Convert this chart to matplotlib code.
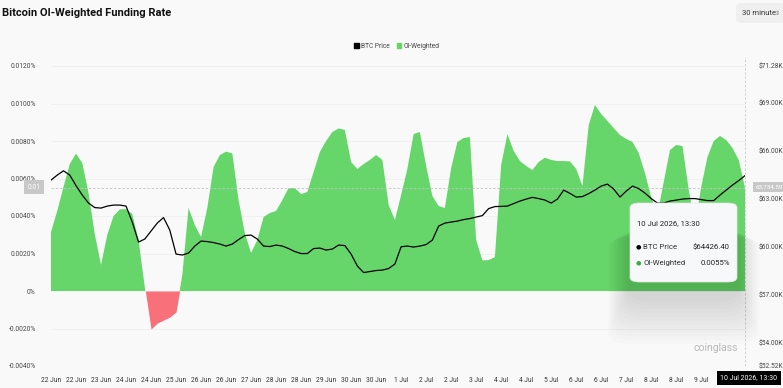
#Bitcoin OI-weighted funding rate vs BTC price (coinglass style)
import matplotlib
matplotlib.use('Agg')
import matplotlib.pyplot as plt
import numpy as np
from matplotlib.patches import FancyBboxPatch, Patch

# 4-hourly readings, hours since 22 Jun 00:00
hours = np.arange(0, 448, 4)

# OI-weighted funding rate, in %
funding = [
    0.00315, 0.00427, 0.00555, 0.00677, 0.00733, 0.00683, 0.00523, 0.00304,
    0.00139, 0.00299, 0.00400, 0.00435, 0.00437, 0.00411, 0.00272, 0.00021,
    -0.00203, -0.00171, -0.00155, -0.00139, -0.00112, 0.00085, 0.00443, 0.00352,
    0.00288, 0.00443, 0.00661, 0.00725, 0.00743, 0.00734, 0.00485, 0.00309,
    0.00203, 0.00272, 0.00395, 0.00416, 0.00427, 0.00485, 0.00549, 0.00549,
    0.00517, 0.00528, 0.00635, 0.00741, 0.00800, 0.00848, 0.00867, 0.00859,
    0.00688, 0.00651, 0.00677, 0.00699, 0.00725, 0.00699, 0.00459, 0.00379,
    0.00512, 0.00651, 0.00837, 0.00848, 0.00667, 0.00507, 0.00453, 0.00443,
    0.00656, 0.00795, 0.00816, 0.00821, 0.00272, 0.00163, 0.00165, 0.00181,
    0.00672, 0.00837, 0.00747, 0.00693, 0.00667, 0.00645, 0.00688, 0.00711,
    0.00699, 0.00693, 0.00693, 0.00691, 0.00651, 0.00560, 0.00885, 0.00992,
    0.00944, 0.00907, 0.00869, 0.00832, 0.00811, 0.00795, 0.00736, 0.00629,
    0.00501, 0.00411, 0.00581, 0.00752, 0.00779, 0.00773, 0.00539, 0.00357,
    0.00555, 0.00715, 0.00800, 0.00827, 0.00805, 0.00763, 0.00699, 0.00550,
]

# BTC price, USD
btc_price = [
    64145, 64458, 64726, 64458, 63801, 63208, 62708, 62426,
    62395, 62520, 62583, 62583, 62520, 61520, 60270, 60458,
    60958, 61458, 61801, 61020, 59520, 59458, 59583, 60020,
    60333, 60301, 60239, 60145, 60020, 60145, 60426, 60676,
    60708, 60458, 60020, 59989, 60083, 60020, 59864, 59676,
    59551, 59551, 59864, 59895, 59770, 59833, 60083, 60051,
    59520, 58770, 58364, 58426, 58489, 58520, 58614, 58895,
    59976, 60020, 59958, 60020, 60114, 60395, 61270, 61458,
    61520, 61583, 61676, 61739, 61833, 61926, 62364, 62489,
    62501, 62520, 62676, 62833, 62958, 63064, 62989, 62895,
    62708, 62958, 63520, 63314, 63083, 63114, 63301, 63520,
    63770, 63895, 63583, 63083, 63458, 63770, 63614, 63333,
    62989, 62708, 62708, 62833, 62895, 62958, 62989, 62989,
    62926, 62864, 62864, 63208, 63520, 63833, 64114, 64426.40,
]

# x labels, one every 16 hours
tick_labels = ['22 Jun', '22 Jun', '23 Jun', '24 Jun', '24 Jun', '25 Jun', '26 Jun',
               '26 Jun', '27 Jun', '28 Jun', '28 Jun', '29 Jun', '30 Jun', '30 Jun',
               '1 Jul', '2 Jul', '2 Jul', '3 Jul', '4 Jul', '4 Jul', '5 Jul',
               '6 Jul', '6 Jul', '7 Jul', '8 Jul', '8 Jul', '9 Jul']
left_ticks = [-0.004, -0.002, 0, 0.002, 0.004, 0.006, 0.008, 0.010, 0.012]
right_ticks = [52520, 54000, 57000, 60000, 63000, 66000, 69000, 71280]

bg = '#f9f9f9'
green = '#67d66a'
red = '#f8707a'
font = ['Roboto', 'DejaVu Sans']

W, H = 783, 388
fig = plt.figure(figsize=(W / 100, H / 100), dpi=100, facecolor=bg)

def fx(x):
    return x / W

def fy(y):
    return 1 - y / H

ax = fig.add_axes([fx(51), fy(366), fx(745 - 51), (366 - 66) / H])
ax.set_facecolor(bg)
fr = np.array(funding)
ax.fill_between(hours, fr, 0, where=fr >= 0, interpolate=True, color=green, lw=0)
ax.fill_between(hours, fr, 0, where=fr < 0, interpolate=True, color=red, lw=0)
ax.set_xlim(hours[0], hours[-1])
ax.set_ylim(-0.004, 0.012)
ax.set_yticks(left_ticks)
ax.set_yticklabels(['-0.0040%', '-0.0020%', '0%', '0.0020%', '0.0040%', '0.0060%',
                    '0.0080%', '0.0100%', '0.0120%'], family=font, fontsize=4.8, color='#444444')
ax.set_xticks(hours[0] + 16 * np.arange(len(tick_labels)))
ax.set_xticklabels(tick_labels, family=font, fontsize=4.8, color='#333333')
ax.tick_params(length=0, pad=11)
ax.tick_params(axis='x', pad=8)
ax.grid(axis='y', color='#efefef', lw=0.6)
ax.set_axisbelow(True)
for s in ax.spines.values():
    s.set_visible(False)

ax2 = ax.twinx()
ax2.plot(hours, btc_price, color='black', lw=0.9)
ax2.set_ylim(52520, 71280)
ax2.set_yticks(right_ticks)
ax2.set_yticklabels(['$%.2fK' % (t / 1000) for t in right_ticks], family=font,
                    fontsize=4.8, color='#444444')
ax2.tick_params(length=0, pad=10)
for s in ax2.spines.values():
    s.set_visible(False)

# crosshair
ax2.axhline(52520 + (71280 - 52520) * (funding[-1] + 0.004) / 0.016, color='#c4c4c4',
            lw=0.6, ls=(0, (3, 2)), zorder=0.5)
ax.axvline(hours[-1], color='#cccccc', lw=0.6, ls=(0, (3, 2)), ymax=1.03, clip_on=False)
fig.text(fx(34), fy(187), '0.01', ha='center', va='center', fontsize=4.8, color='white',
         family=font, bbox=dict(boxstyle='square,pad=0.5', fc='#c8c8c8', ec='none'))
fig.text(fx(769), fy(187), '63,734.59', ha='center', va='center', fontsize=4.5, color='white',
         family=font, bbox=dict(boxstyle='square,pad=0.45', fc='#c8c8c8', ec='none'))
fig.text(fx(749), fy(378), '10 Jul 2026, 13:30', ha='center', va='center', fontsize=5,
         color='white', family=font, bbox=dict(boxstyle='square,pad=0.5', fc='black', ec='none'))

# tooltip shadow + box
for i in range(12):
    g = 4 + i * 3
    fig.patches.append(FancyBboxPatch((fx(630 - g * 0.6), fy(296 + g * 1.3)), fx(107 + g * 1.2), (70 + g) / H,
                                      boxstyle='round,pad=0,rounding_size=0.03',
                                      transform=fig.transFigure, fc='black', ec='none', alpha=0.012))
fig.patches.append(FancyBboxPatch((fx(630), fy(282)), fx(107), 79 / H,
                                  boxstyle='round,pad=0,rounding_size=0.012',
                                  transform=fig.transFigure, fc='#f7f8fa', ec='#e6e6e6', lw=0.5))
fig.text(fx(637), fy(223), '10 Jul 2026, 13:30', fontsize=5.6, color='#222222', va='center', family=font)
fig.text(fx(636), fy(247), '\u25cf', fontsize=4.5, color='black', va='center')
fig.text(fx(643), fy(247), 'BTC Price', fontsize=5.6, color='#333333', va='center', family=font)
fig.text(fx(730), fy(247), '$64426.40', fontsize=5.6, color='#222222', va='center', ha='right', family=font)
fig.text(fx(636), fy(263), '\u25cf', fontsize=4.5, color='#3fa94a', va='center')
fig.text(fx(643), fy(263), 'OI-Weighted', fontsize=5.6, color='#333333', va='center', family=font)
fig.text(fx(730), fy(263), '0.0055%', fontsize=5.6, color='#222222', va='center', ha='right', family=font)

# title, selector, legend, watermark
fig.text(fx(2), fy(13), 'Bitcoin OI-Weighted Funding Rate', fontsize=8, fontweight='bold',
         family=font, va='center', color='#111111')
fig.patches.append(FancyBboxPatch((fx(736), fy(23)), fx(50), 20 / H,
                                  boxstyle='round,pad=0,rounding_size=0.01',
                                  transform=fig.transFigure, fc='#efefef', ec='none'))
fig.text(fx(742), fy(13), '30 minute', fontsize=5.5, color='#333333', va='center', family=font)
fig.text(fx(775), fy(13), '\u21d5', fontsize=4.5, color='#777777', va='center')
leg = fig.legend(handles=[Patch(color='black', label='BTC Price'), Patch(color=green, label='OI-Weighted')],
                 loc='center', bbox_to_anchor=(fx(397), fy(46)), ncol=2, frameon=False,
                 handlelength=0.7, handleheight=0.7, handletextpad=0.4, columnspacing=1.0,
                 prop={'family': font, 'size': 4.8})
for t in leg.get_texts():
    t.set_color('#444444')
fig.text(fx(716), fy(348), 'coinglass', fontsize=7.5, color='#b8b8b8', va='center', ha='center',
         family=font)

fig.savefig('out.png', dpi=100, facecolor=bg)
